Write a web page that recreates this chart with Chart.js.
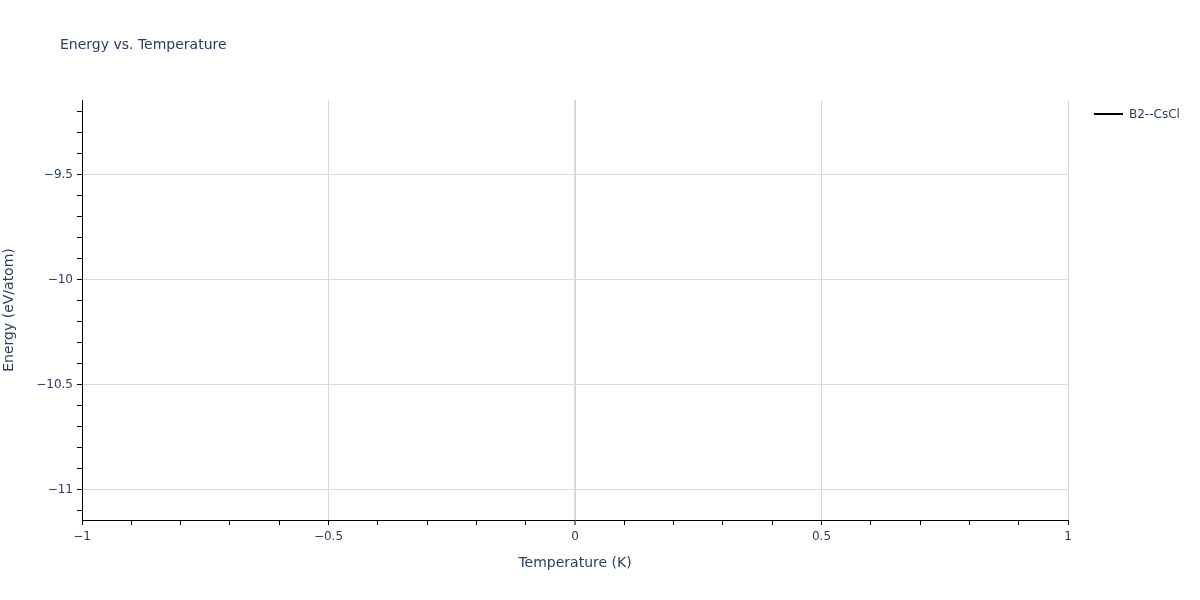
<!DOCTYPE html>
<html>
<head>
<meta charset="utf-8">
<script src="https://cdn.jsdelivr.net/npm/chart.js@4"></script>
<style>
  html, body { margin: 0; padding: 0; background: #fff; }
  canvas { display: block; }
</style>
</head>
<body>
<canvas id="energyChart" width="1200" height="600"></canvas>
<script>
// data: one structure, a single point at T = 0
const seriesName = "B2--CsCl";
const temperatures = [0];
const energies = [-10.143];

// axis ranges and labelled ticks
const xRange = [-1, 1];
const yRange = [-11.143, -9.143];
const xTickLabels = [-1, -0.5, 0, 0.5, 1];
const yTickLabels = [-11, -10.5, -10, -9.5];
const minorStep = 0.1;

const textColor = "#2a3f5f";
const gridColor = "#dcdcdc";
const fontFamily = "'DejaVu Sans', verdana, sans-serif";

function isMajor(v, labels) {
  return labels.some((l) => Math.abs(l - v) < 1e-6);
}

function fmt(v) {
  const s = String(Math.round(v * 10) / 10);
  return s.replace("-", "\u2212");
}

// ticks every 0.1 inside the range
function minorTicks(range) {
  const out = [];
  const start = Math.ceil(range[0] / minorStep - 1e-6);
  const end = Math.floor(range[1] / minorStep + 1e-6);
  for (let i = start; i <= end; i++) out.push({ value: Math.round(i) / 10 });
  return out;
}

// title + legend drawn at fixed spots, like the original
const decorPlugin = {
  id: "decor",
  afterDraw(chart) {
    const c = chart.ctx;
    c.save();
    c.fillStyle = textColor;
    c.font = "14px " + fontFamily;
    c.textBaseline = "middle";
    c.textAlign = "left";
    c.fillText("Energy vs. Temperature", 60, 45);

    c.strokeStyle = "#000";
    c.lineWidth = 2;
    c.beginPath();
    c.moveTo(1094, 114);
    c.lineTo(1123, 114);
    c.stroke();
    c.font = "12px " + fontFamily;
    c.fillText(seriesName, 1129, 115);
    c.restore();
  },
};

document.addEventListener("DOMContentLoaded", function () {
  const ctx = document.getElementById("energyChart").getContext("2d");
  new Chart(ctx, {
    type: "line",
    data: {
      datasets: [
        {
          label: seriesName,
          data: temperatures.map((t, i) => ({ x: t, y: energies[i] })),
          borderColor: "#000",
          backgroundColor: "#000",
          borderWidth: 2,
          pointRadius: 0,
          showLine: true,
        },
      ],
    },
    options: {
      responsive: false,
      animation: false,
      devicePixelRatio: 1,
      layout: { padding: { top: 100, right: 132, bottom: 20, left: 0 } },
      plugins: {
        legend: { display: false },
        title: { display: false },
        tooltip: { enabled: false },
      },
      scales: {
        x: {
          type: "linear",
          min: xRange[0],
          max: xRange[1],
          afterBuildTicks: (scale) => { scale.ticks = minorTicks(xRange); },
          afterFit: (scale) => { scale.height = 60; },
          border: { color: "#000", width: 1 },
          grid: {
            color: (c) => isMajor(c.tick.value, xTickLabels) ? "#d8d8d8" : "rgba(0,0,0,0)",
            lineWidth: (c) => Math.abs(c.tick.value) < 1e-6 ? 2 : 1,
            tickColor: "#000",
            tickLength: 5,
            tickWidth: 1,
          },
          ticks: {
            autoSkip: false,
            maxRotation: 0,
            padding: 5,
            color: textColor,
            font: { family: fontFamily, size: 12 },
            callback: (v) => isMajor(v, xTickLabels) ? fmt(v) : "",
          },
          title: {
            display: true,
            text: "Temperature (K)",
            color: textColor,
            font: { family: fontFamily, size: 14 },
            padding: 8,
          },
        },
        y: {
          type: "linear",
          min: yRange[0],
          max: yRange[1],
          afterBuildTicks: (scale) => { scale.ticks = minorTicks(yRange); },
          afterFit: (scale) => { scale.width = 82; },
          border: { color: "#000", width: 1 },
          grid: {
            color: (c) => isMajor(c.tick.value, yTickLabels) ? gridColor : "rgba(0,0,0,0)",
            tickColor: "#000",
            tickLength: 5,
            tickWidth: 1,
          },
          ticks: {
            autoSkip: false,
            padding: 4,
            color: textColor,
            font: { family: fontFamily, size: 12 },
            callback: (v) => isMajor(v, yTickLabels) ? fmt(v) : "",
          },
          title: {
            display: true,
            text: "Energy (eV/atom)",
            color: textColor,
            font: { family: fontFamily, size: 14 },
            padding: { top: 1, bottom: 0 },
          },
        },
      },
    },
    plugins: [decorPlugin],
  });
});
</script>
</body>
</html>
